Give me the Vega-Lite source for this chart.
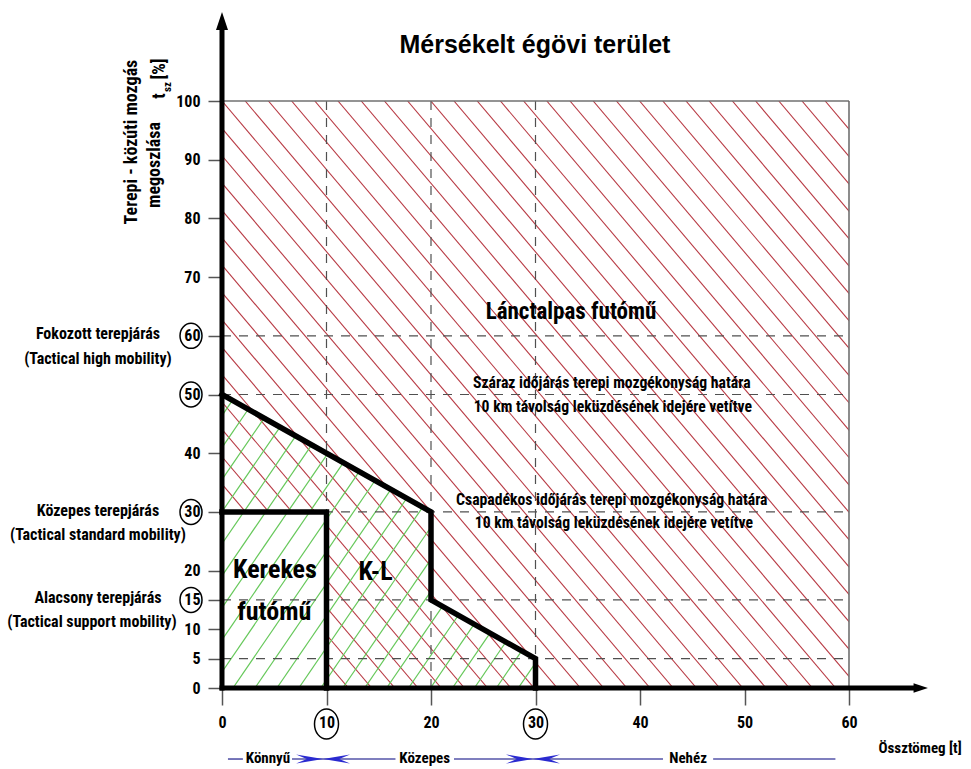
{
  "$schema": "https://vega.github.io/schema/vega-lite/v6.json",
  "width": 627,
  "height": 587,
  "autosize": {"type": "none"},
  "padding": {"left": 222, "top": 101, "right": 122, "bottom": 81},
  "background": "white",
  "config": {
    "view": {"stroke": null},
    "font": "Roboto Condensed, Liberation Sans, sans-serif",
    "axis": {"domain": false, "grid": false, "tickColor": "#555555", "tickWidth": 1.5, "labelFontWeight": "bold", "labelFontSize": 16, "labelColor": "black", "labelFlush": false, "labelOverlap": false}
  },
  "encoding": {
    "x": {"field": "x", "type": "quantitative", "scale": {"domain": [0, 60], "nice": false, "zero": false}, "axis": {"title": null, "values": [0, 10, 20, 30, 40, 50, 60], "tickSize": 17, "labelPadding": 9}},
    "y": {"field": "y", "type": "quantitative", "scale": {"domain": [0, 100], "nice": false, "zero": false}, "axis": {"title": null, "values": [0, 5, 10, 15, 20, 30, 40, 50, 60, 70, 80, 90, 100], "tickSize": 14, "labelPadding": 8}}
  },
  "layer": [
    {
      "data": {"values": [
        {"x": -46.62, "y": 100, "x2": 1.0, "y2": 0},
        {"x": -44.4, "y": 100, "x2": 3.22, "y2": 0},
        {"x": -42.18, "y": 100, "x2": 5.44, "y2": 0},
        {"x": -39.96, "y": 100, "x2": 7.66, "y2": 0},
        {"x": -37.74, "y": 100, "x2": 9.88, "y2": 0},
        {"x": -35.52, "y": 100, "x2": 12.1, "y2": 0},
        {"x": -33.3, "y": 100, "x2": 14.32, "y2": 0},
        {"x": -31.08, "y": 100, "x2": 16.54, "y2": 0},
        {"x": -28.86, "y": 100, "x2": 18.76, "y2": 0},
        {"x": -26.64, "y": 100, "x2": 20.98, "y2": 0},
        {"x": -24.42, "y": 100, "x2": 23.2, "y2": 0},
        {"x": -22.2, "y": 100, "x2": 25.42, "y2": 0},
        {"x": -19.98, "y": 100, "x2": 27.64, "y2": 0},
        {"x": -17.76, "y": 100, "x2": 29.86, "y2": 0},
        {"x": -15.54, "y": 100, "x2": 32.08, "y2": 0},
        {"x": -13.32, "y": 100, "x2": 34.3, "y2": 0},
        {"x": -11.1, "y": 100, "x2": 36.52, "y2": 0},
        {"x": -8.88, "y": 100, "x2": 38.74, "y2": 0},
        {"x": -6.66, "y": 100, "x2": 40.96, "y2": 0},
        {"x": -4.44, "y": 100, "x2": 43.18, "y2": 0},
        {"x": -2.22, "y": 100, "x2": 45.4, "y2": 0},
        {"x": 0, "y": 100, "x2": 47.62, "y2": 0},
        {"x": 2.22, "y": 100, "x2": 49.84, "y2": 0},
        {"x": 4.44, "y": 100, "x2": 52.06, "y2": 0},
        {"x": 6.66, "y": 100, "x2": 54.28, "y2": 0},
        {"x": 8.88, "y": 100, "x2": 56.5, "y2": 0},
        {"x": 11.1, "y": 100, "x2": 58.72, "y2": 0},
        {"x": 13.32, "y": 100, "x2": 60.94, "y2": 0},
        {"x": 15.54, "y": 100, "x2": 63.16, "y2": 0},
        {"x": 17.76, "y": 100, "x2": 65.38, "y2": 0},
        {"x": 19.98, "y": 100, "x2": 67.6, "y2": 0},
        {"x": 22.2, "y": 100, "x2": 69.82, "y2": 0},
        {"x": 24.42, "y": 100, "x2": 72.04, "y2": 0},
        {"x": 26.64, "y": 100, "x2": 74.26, "y2": 0},
        {"x": 28.86, "y": 100, "x2": 76.48, "y2": 0},
        {"x": 31.08, "y": 100, "x2": 78.7, "y2": 0},
        {"x": 33.3, "y": 100, "x2": 80.92, "y2": 0},
        {"x": 35.52, "y": 100, "x2": 83.14, "y2": 0},
        {"x": 37.74, "y": 100, "x2": 85.36, "y2": 0},
        {"x": 39.96, "y": 100, "x2": 87.58, "y2": 0},
        {"x": 42.18, "y": 100, "x2": 89.8, "y2": 0},
        {"x": 44.4, "y": 100, "x2": 92.02, "y2": 0},
        {"x": 46.62, "y": 100, "x2": 94.24, "y2": 0},
        {"x": 48.84, "y": 100, "x2": 96.46, "y2": 0},
        {"x": 51.06, "y": 100, "x2": 98.68, "y2": 0},
        {"x": 53.28, "y": 100, "x2": 100.9, "y2": 0},
        {"x": 55.5, "y": 100, "x2": 103.12, "y2": 0},
        {"x": 57.72, "y": 100, "x2": 105.34, "y2": 0},
        {"x": 59.94, "y": 100, "x2": 107.56, "y2": 0}
      ]},
      "mark": {"type": "rule", "clip": true, "color": "#b83a44", "strokeWidth": 1.1},
      "encoding": {"x2": {"field": "x2"}, "y2": {"field": "y2"}}
    },
    {
      "data": {"values": [{"x": 0, "y": 0, "x2": 10, "y2": 30}]},
      "mark": {"type": "rect", "color": "white"},
      "encoding": {"x2": {"field": "x2"}, "y2": {"field": "y2"}}
    },
    {
      "data": {"values": [
        {"x": 0, "y": 46.41, "x2": 0.997, "y2": 49.0},
        {"x": 0, "y": 40.95, "x2": 2.514, "y2": 47.49},
        {"x": 0, "y": 35.49, "x2": 4.031, "y2": 45.97},
        {"x": 0, "y": 30.03, "x2": 5.547, "y2": 44.45},
        {"x": 0, "y": 24.57, "x2": 7.064, "y2": 42.94},
        {"x": 0, "y": 19.11, "x2": 8.581, "y2": 41.42},
        {"x": 0, "y": 13.65, "x2": 10.097, "y2": 39.9},
        {"x": 0, "y": 8.19, "x2": 11.614, "y2": 38.39},
        {"x": 0, "y": 2.73, "x2": 13.131, "y2": 36.87},
        {"x": 1.05, "y": 0, "x2": 14.647, "y2": 35.35},
        {"x": 3.15, "y": 0, "x2": 16.164, "y2": 33.84},
        {"x": 5.25, "y": 0, "x2": 17.681, "y2": 32.32},
        {"x": 7.35, "y": 0, "x2": 19.197, "y2": 30.8},
        {"x": 9.45, "y": 0, "x2": 20, "y2": 27.43},
        {"x": 11.55, "y": 0, "x2": 20, "y2": 21.97},
        {"x": 13.65, "y": 0, "x2": 20, "y2": 16.51},
        {"x": 15.75, "y": 0, "x2": 21.097, "y2": 13.9},
        {"x": 17.85, "y": 0, "x2": 22.614, "y2": 12.39},
        {"x": 19.95, "y": 0, "x2": 24.131, "y2": 10.87},
        {"x": 22.05, "y": 0, "x2": 25.647, "y2": 9.35},
        {"x": 24.15, "y": 0, "x2": 27.164, "y2": 7.84},
        {"x": 26.25, "y": 0, "x2": 28.681, "y2": 6.32},
        {"x": 28.35, "y": 0, "x2": 30, "y2": 4.29}
      ]},
      "mark": {"type": "rule", "clip": true, "color": "#66c85a", "strokeWidth": 1.2},
      "encoding": {"x2": {"field": "x2"}, "y2": {"field": "y2"}}
    },
    {
      "data": {"values": [
        {"x": 0, "y": 60, "x2": 60, "y2": 60},
        {"x": 0, "y": 50, "x2": 60, "y2": 50},
        {"x": 0, "y": 30, "x2": 60, "y2": 30},
        {"x": 0, "y": 15, "x2": 60, "y2": 15},
        {"x": 0, "y": 5, "x2": 60, "y2": 5},
        {"x": 10, "y": 0, "x2": 10, "y2": 100},
        {"x": 20, "y": 0, "x2": 20, "y2": 100},
        {"x": 30, "y": 0, "x2": 30, "y2": 100}
      ]},
      "mark": {"type": "rule", "color": "#505050", "strokeWidth": 1.2, "strokeDash": [9, 8]},
      "encoding": {"x2": {"field": "x2"}, "y2": {"field": "y2"}}
    },
    {
      "data": {"values": [
        {"x": 0, "y": 100, "x2": 60, "y2": 100},
        {"x": 60, "y": 0, "x2": 60, "y2": 100}
      ]},
      "mark": {"type": "rule", "color": "#707070", "strokeWidth": 1.6},
      "encoding": {"x2": {"field": "x2"}, "y2": {"field": "y2"}}
    },
    {
      "data": {"values": [
        {"x": 0, "y": 50, "g": "kl", "o": 1},
        {"x": 20, "y": 30, "g": "kl", "o": 2},
        {"x": 20, "y": 15, "g": "kl", "o": 3},
        {"x": 30, "y": 5, "g": "kl", "o": 4},
        {"x": 30, "y": 0, "g": "kl", "o": 5},
        {"x": 0, "y": 30, "g": "ker", "o": 1},
        {"x": 10, "y": 30, "g": "ker", "o": 2},
        {"x": 10, "y": 0, "g": "ker", "o": 3}
      ]},
      "mark": {"type": "line", "color": "black", "strokeWidth": 5.5, "strokeJoin": "miter", "strokeCap": "square"},
      "encoding": {"detail": {"field": "g"}, "order": {"field": "o", "type": "quantitative"}}
    },
    {
      "data": {"values": [
        {"x": 0, "y": 0, "x2": 0, "y2": 113},
        {"x": 0, "y": 0, "x2": 66, "y2": 0}
      ]},
      "mark": {"type": "rule", "color": "black", "strokeWidth": 5, "strokeCap": "square"},
      "encoding": {"x2": {"field": "x2"}, "y2": {"field": "y2"}}
    },
    {
      "data": {"values": [{"x": 0, "y": 113.46}]},
      "mark": {"type": "point", "shape": "M0,-1L0.6,0.8L-0.6,0.8Z", "size": 400, "filled": true, "color": "black", "opacity": 1},
      "encoding": {}
    },
    {
      "data": {"values": [{"x": 66.79, "y": 0}]},
      "mark": {"type": "point", "shape": "M1,0L-0.8,-0.6L-0.8,0.6Z", "size": 256, "filled": true, "color": "black", "opacity": 1},
      "encoding": {}
    },
    {
      "data": {"values": [{"x": 0, "y": 60}, {"x": 0, "y": 50}, {"x": 0, "y": 30}, {"x": 0, "y": 15}]},
      "mark": {"type": "point", "shape": "M0,-1A0.88,1,0,1,1,0,1A0.88,1,0,1,1,0,-1Z", "size": 625, "filled": false, "stroke": "black", "strokeWidth": 1.5, "opacity": 1, "xOffset": -31},
      "encoding": {}
    },
    {
      "data": {"values": [{"x": 10, "y": 0}, {"x": 30, "y": 0}]},
      "mark": {"type": "point", "shape": "M0,-1A0.8,1,0,1,1,0,1A0.8,1,0,1,1,0,-1Z", "size": 900, "filled": false, "stroke": "black", "strokeWidth": 1.5, "opacity": 1, "yOffset": 36},
      "encoding": {}
    },
    {
      "data": {"values": [
        {"x": 0.57, "y": -12.1, "x2": 2.0, "y2": -12.1},
        {"x": 6.7, "y": -12.1, "x2": 16.6, "y2": -12.1},
        {"x": 22.2, "y": -12.1, "x2": 42.2, "y2": -12.1},
        {"x": 47.0, "y": -12.1, "x2": 58.7, "y2": -12.1}
      ]},
      "mark": {"type": "rule", "color": "#5454a8", "strokeWidth": 1.6},
      "encoding": {"x2": {"field": "x2"}, "y2": {"field": "y2"}}
    },
    {
      "data": {"values": [{"x": 9.67, "y": -12.1}, {"x": 29.76, "y": -12.1}]},
      "mark": {"type": "point", "shape": "M-1,-0.17L0,0L-1,0.17L-0.6,0ZM1,-0.17L0,0L1,0.17L0.6,0Z", "size": 2916, "filled": true, "color": "#2a2ad0", "opacity": 1},
      "encoding": {}
    },
    {
      "data": {"values": [{"x": 29.95, "y": 109.5, "text": "Mérsékelt égövi terület"}]},
      "mark": {"type": "text", "font": "Liberation Sans", "fontSize": 25, "fontWeight": "bold", "color": "black", "align": "center", "baseline": "middle"},
      "encoding": {"text": {"field": "text"}}
    },
    {
      "data": {"values": [{"x": 33.4, "y": 64.0, "text": "Lánctalpas futómű"}]},
      "mark": {"type": "text", "fontSize": 23, "fontWeight": "bold", "color": "black", "align": "center", "baseline": "middle"},
      "encoding": {"text": {"field": "text"}}
    },
    {
      "data": {"values": [
        {"x": 5.07, "y": 20.1, "text": "Kerekes"},
        {"x": 5.0, "y": 12.95, "text": "futómű"},
        {"x": 14.7, "y": 19.8, "text": "K-L"}
      ]},
      "mark": {"type": "text", "fontSize": 26, "fontWeight": "bold", "color": "black", "align": "center", "baseline": "middle"},
      "encoding": {"text": {"field": "text"}}
    },
    {
      "data": {"values": [
        {"x": 37.3, "y": 52.0, "text": "Száraz időjárás terepi mozgékonyság határa"},
        {"x": 37.4, "y": 47.9, "text": "10 km távolság leküzdésének idejére vetítve"},
        {"x": 37.3, "y": 32.0, "text": "Csapadékos időjárás terepi mozgékonyság határa"},
        {"x": 37.5, "y": 28.1, "text": "10 km távolság leküzdésének idejére vetítve"}
      ]},
      "mark": {"type": "text", "fontSize": 15.7, "fontWeight": "bold", "color": "black", "align": "center", "baseline": "middle"},
      "encoding": {"text": {"field": "text"}}
    },
    {
      "data": {"values": [
        {"x": -11.87, "y": 60.3, "text": "Fokozott terepjárás"},
        {"x": -11.87, "y": 56.05, "text": "(Tactical high mobility)"},
        {"x": -11.87, "y": 30.15, "text": "Közepes terepjárás"},
        {"x": -11.87, "y": 26.06, "text": "(Tactical standard mobility)"},
        {"x": -11.87, "y": 15.33, "text": "Alacsony terepjárás"},
        {"x": -12.44, "y": 11.24, "text": "(Tactical support mobility)"}
      ]},
      "mark": {"type": "text", "fontSize": 16, "fontWeight": "bold", "color": "black", "align": "center", "baseline": "middle"},
      "encoding": {"text": {"field": "text"}}
    },
    {
      "data": {"values": [
        {"x": -8.61, "y": 93.0, "text": "Terepi - közúti mozgás"},
        {"x": -6.41, "y": 89.1, "text": "megoszlása"},
        {"x": -5.93, "y": 100.85, "text": "t"},
        {"x": -5.93, "y": 105.45, "text": "[%]"}
      ]},
      "mark": {"type": "text", "fontSize": 18, "fontWeight": "bold", "color": "black", "align": "center", "baseline": "middle", "angle": 270},
      "encoding": {"text": {"field": "text"}}
    },
    {
      "data": {"values": [{"x": -5.2, "y": 102.4, "text": "sz"}]},
      "mark": {"type": "text", "fontSize": 11, "fontWeight": "bold", "color": "black", "align": "center", "baseline": "middle", "angle": 270},
      "encoding": {"text": {"field": "text"}}
    },
    {
      "data": {"values": [
        {"x": 4.4, "y": -11.93, "text": "Könnyű"},
        {"x": 19.4, "y": -11.93, "text": "Közepes"},
        {"x": 44.6, "y": -11.93, "text": "Nehéz"}
      ]},
      "mark": {"type": "text", "fontSize": 15, "fontWeight": "bold", "color": "black", "align": "center", "baseline": "middle"},
      "encoding": {"text": {"field": "text"}}
    },
    {
      "data": {"values": [{"x": 66.8, "y": -10.2, "text": "Össztömeg [t]"}]},
      "mark": {"type": "text", "fontSize": 15, "fontWeight": "bold", "color": "black", "align": "center", "baseline": "middle"},
      "encoding": {"text": {"field": "text"}}
    }
  ]
}
